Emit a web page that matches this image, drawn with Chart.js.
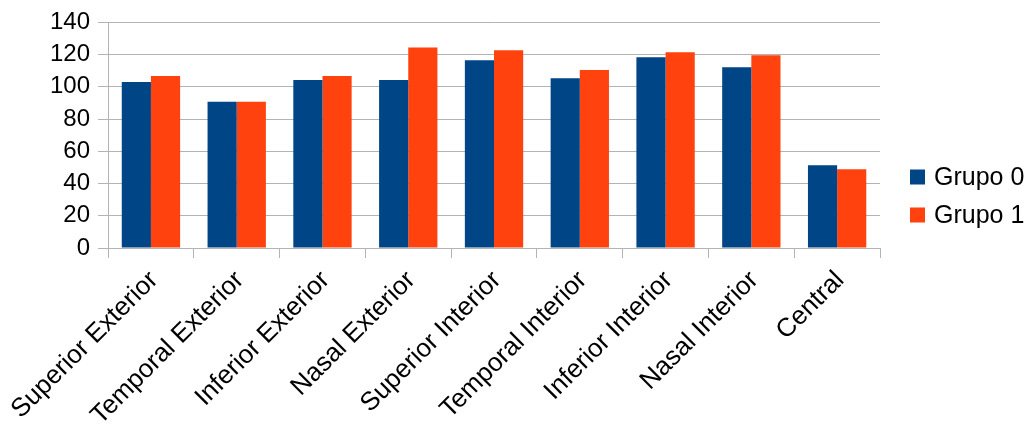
<!DOCTYPE html>
<html>
<head>
<meta charset="utf-8">
<script src="https://cdn.jsdelivr.net/npm/chart.js@4/dist/chart.umd.min.js"></script>
<style>
  html, body { margin: 0; padding: 0; background: #ffffff; }
  #wrap { width: 1029px; height: 426px; position: relative; }
</style>
</head>
<body>
<div id="wrap"><canvas id="chart"></canvas></div>
<script>
// Regions measured in each group
const categories = [
  'Superior Exterior', 'Temporal Exterior', 'Inferior Exterior', 'Nasal Exterior',
  'Superior Interior', 'Temporal Interior', 'Inferior Interior', 'Nasal Interior', 'Central'
];
const seriesNames = ['Grupo 0', 'Grupo 1'];
const grupo0 = [103.0, 90.7, 104.2, 104.2, 116.5, 105.4, 118.4, 112.2, 51.3];
const grupo1 = [106.7, 90.7, 106.7, 124.5, 122.7, 110.4, 121.4, 119.6, 48.8];
const yTicks = [0, 20, 40, 60, 80, 100, 120, 140];

const colors = ['#004586', '#ff420e'];
const gridGray = '#b3b3b3';
const fontFamily = '"Liberation Sans", Arial, sans-serif';

// Legend drawn at the right of the plot, squares followed by series names
const sideLegend = {
  id: 'sideLegend',
  afterDraw(chart) {
    const ctx = chart.ctx;
    ctx.save();
    ctx.font = '25px ' + fontFamily;
    ctx.textBaseline = 'middle';
    ctx.textAlign = 'left';
    chart.data.datasets.forEach((ds, i) => {
      const cy = 177 + i * 38;
      ctx.fillStyle = ds.backgroundColor;
      ctx.fillRect(910, cy - 7.5, 15, 15);
      ctx.fillStyle = '#000000';
      ctx.fillText(ds.label, 934, cy + 1);
    });
    ctx.restore();
  }
};

new Chart(document.getElementById('chart'), {
  type: 'bar',
  data: {
    labels: categories,
    datasets: [
      { label: seriesNames[0], data: grupo0, backgroundColor: colors[0] },
      { label: seriesNames[1], data: grupo1, backgroundColor: colors[1] }
    ]
  },
  options: {
    responsive: true,
    maintainAspectRatio: false,
    animation: false,
    devicePixelRatio: 1,
    layout: { padding: { top: 21, right: 149, left: 0, bottom: 0 } },
    datasets: { bar: { categoryPercentage: 0.68, barPercentage: 1.0, borderWidth: 0 } },
    plugins: {
      legend: { display: false },
      tooltip: { enabled: false }
    },
    scales: {
      x: {
        offset: true,
        grid: {
          offset: true,
          drawOnChartArea: true,
          color: (c) => (c.index === 0 || c.index === categories.length) ? gridGray : 'rgba(0,0,0,0)',
          tickColor: gridGray,
          tickLength: 10,
          lineWidth: 1
        },
        border: { display: true, color: gridGray },
        ticks: {
          color: '#000000',
          font: { family: fontFamily, size: 26 },
          minRotation: 45,
          maxRotation: 45,
          autoSkip: false,
          padding: 7,
          labelOffset: 3
        },
        afterFit: (s) => { s.height = 178; }
      },
      y: {
        min: 0,
        max: 140,
        afterBuildTicks: (s) => { s.ticks = yTicks.map(v => ({ value: v })); },
        grid: {
          color: gridGray,
          tickColor: gridGray,
          tickLength: 10,
          lineWidth: 1
        },
        border: { display: true, color: gridGray },
        ticks: {
          color: '#000000',
          font: { family: fontFamily, size: 24 },
          padding: 8
        },
        afterFit: (s) => { s.width = 108; }
      }
    }
  },
  plugins: [sideLegend]
});
</script>
</body>
</html>
